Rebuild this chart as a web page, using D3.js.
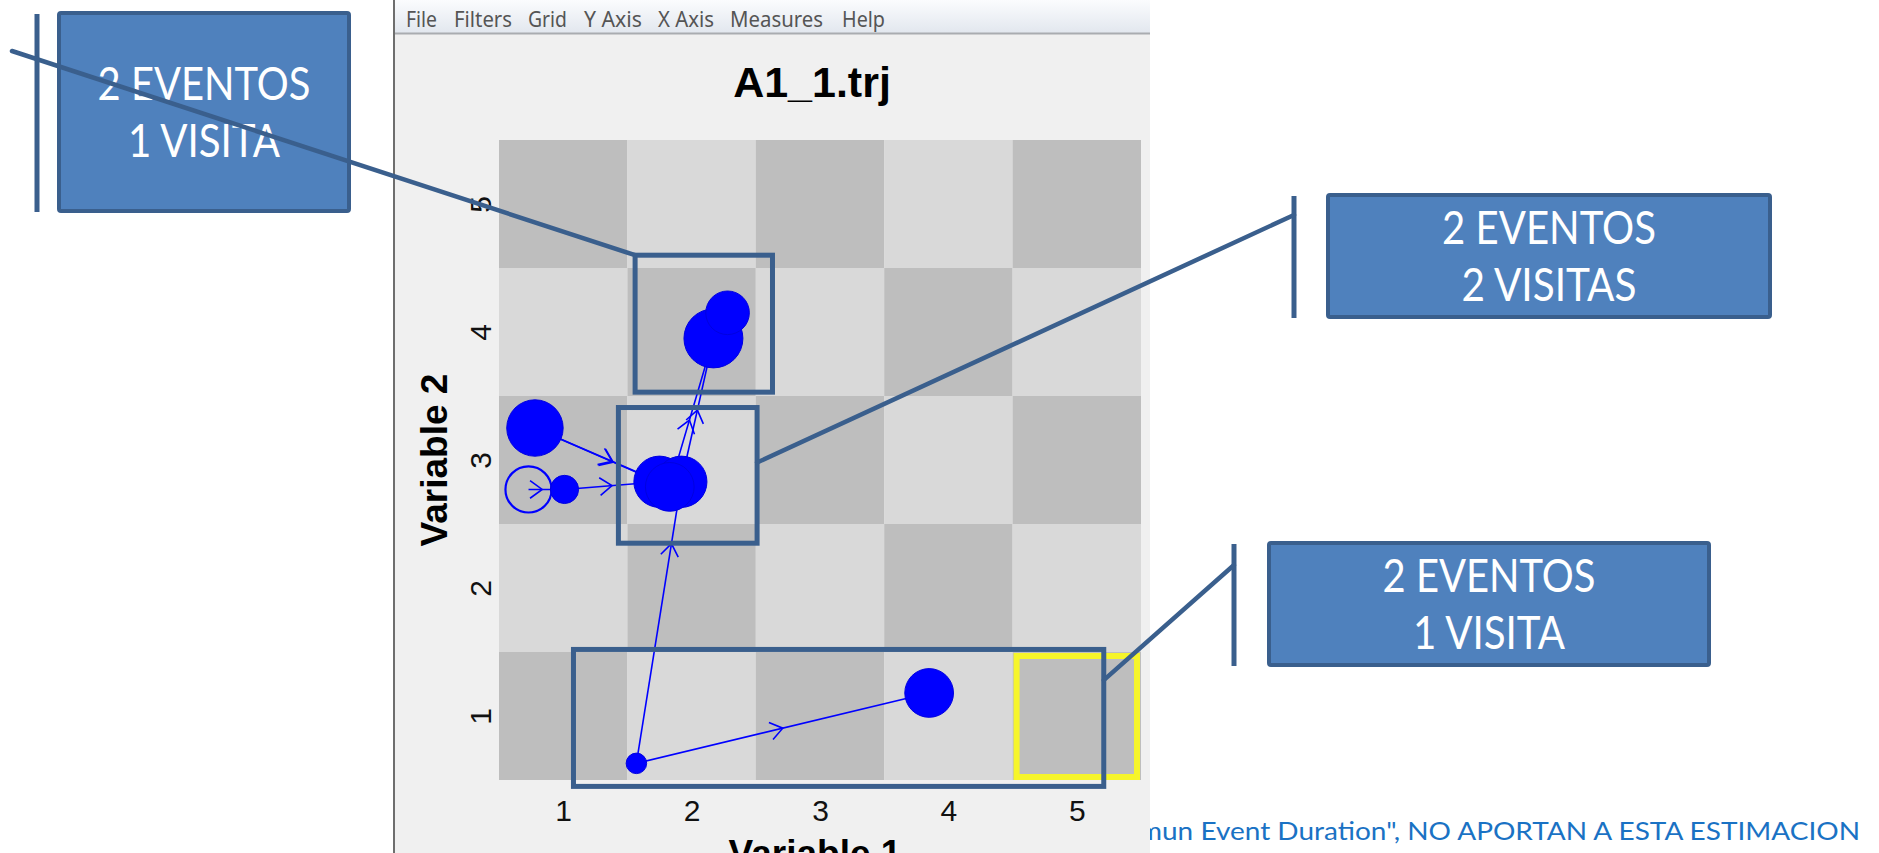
<!DOCTYPE html>
<html>
<head>
<meta charset="utf-8">
<script src="https://cdnjs.cloudflare.com/ajax/libs/d3/7.8.5/d3.min.js"></script>
<style>
  html, body { margin: 0; padding: 0; background: #fff; overflow: hidden; }
</style>
</head>
<body>
<div id="chart"></div>
<script>
'use strict';

// ---- data ----
const chartTitle = "A1_1.trj";
const menuItems = ["File", "Filters", "Grid", "Y Axis", "X Axis", "Measures", "Help"];
const xTicks = [1, 2, 3, 4, 5];
const yTicks = [1, 2, 3, 4, 5];
const xLabel = "Variable 1";
const yLabel = "Variable 2";

// events of the trajectory: grid position, radius in cell units (duration), filled or not
const eventIds = ["a", "b", "c", "d1", "d2", "d3", "e1", "e2", "f", "g"];
const eventX   = [0.78, 0.73, 1.01, 1.75, 1.92, 1.83, 2.17, 2.28, 1.57, 3.85];
const eventY   = [3.25, 2.77, 2.77, 2.83, 2.83, 2.79, 3.95, 4.15, 0.63, 1.18];
const eventR   = [0.22, 0.18, 0.11, 0.20, 0.20, 0.19, 0.23, 0.17, 0.08, 0.19];
const eventFilled = [true, false, true, true, true, true, true, true, true, true];

// moves between events, with where the arrow head sits along the move
const moveFrom = ["a",  "a",  "b",  "c",  "f",  "d2", "d3", "f"];
const moveTo   = ["d1", "d3", "c",  "d1", "d2", "e1", "e1", "g"];
const moveAt   = [0.62, 0.58, 0.38, 0.5,  0.78, 0.5,  0.45, 0.5];

// highlighted regions (grid units): x0, x1, y0, y1
const highlightNames = ["row4", "row3", "row1"];
const highlightX0 = [1.56, 1.43, 1.08];
const highlightX1 = [2.63, 2.51, 5.21];
const highlightY0 = [3.53, 2.35, 0.45];
const highlightY1 = [4.60, 3.41, 1.52];
const selectedCell = [5, 1];

// callout texts
const calloutLines = [
    ["2 EVENTOS", "1 VISITA"],
    ["2 EVENTOS", "2 VISITAS"],
    ["2 EVENTOS", "1 VISITA"]
];
const footnote = "mun Event Duration\", NO APORTAN A ESTA ESTIMACION";

// ---- layout ----
const W = 1879, H = 853;
const dark = "#bebebe", light = "#d9d9d9";
const annoColor = "#3a5f8d";

const svg = d3.select("#chart")
    .append("svg")
    .attr("width", W)
    .attr("height", H)
    .style("display", "block");

svg.append("rect").attr("width", W).attr("height", H).attr("fill", "#ffffff");

// footnote partly hidden behind the window
svg.append("text")
    .attr("x", 1139)
    .attr("y", 840)
    .attr("font-family", "Lato, 'Open Sans', sans-serif")
    .attr("font-size", 25)
    .attr("fill", "#1a72c4")
    .attr("textLength", 721)
    .attr("lengthAdjust", "spacingAndGlyphs")
    .text(footnote);

// application window
const win = svg.append("g");
win.append("rect")
    .attr("x", 395).attr("y", 0)
    .attr("width", 755).attr("height", H)
    .attr("fill", "#f0f0f0");
win.append("line")
    .attr("x1", 394).attr("x2", 394).attr("y1", 0).attr("y2", H)
    .attr("stroke", "#6e6e6e").attr("stroke-width", 2);

const defs = svg.append("defs");
const grad = defs.append("linearGradient").attr("id", "menuGrad")
    .attr("x1", 0).attr("x2", 0).attr("y1", 0).attr("y2", 1);
grad.append("stop").attr("offset", "0%").attr("stop-color", "#fbfcfe");
grad.append("stop").attr("offset", "100%").attr("stop-color", "#e2e7ee");

win.append("rect")
    .attr("x", 395).attr("y", 0)
    .attr("width", 755).attr("height", 33)
    .attr("fill", "url(#menuGrad)");
win.append("line")
    .attr("x1", 395).attr("x2", 1150).attr("y1", 33.5).attr("y2", 33.5)
    .attr("stroke", "#a9acb0").attr("stroke-width", 2);

const menuX = [406, 454, 528, 584, 658, 730, 842];
const menuW = [31, 58, 39, 58, 56, 93, 43];
win.selectAll(".menu")
    .data(menuItems)
    .enter()
    .append("text")
    .attr("class", "menu")
    .attr("x", (d, i) => menuX[i])
    .attr("y", 27)
    .attr("font-family", "'Noto Sans', 'Open Sans', sans-serif")
    .attr("font-size", 21)
    .attr("fill", "#555555")
    .attr("textLength", (d, i) => menuW[i])
    .attr("lengthAdjust", "spacingAndGlyphs")
    .text(d => d);

win.append("text")
    .attr("x", 812)
    .attr("y", 97)
    .attr("text-anchor", "middle")
    .attr("font-family", "'Liberation Sans', Arial, sans-serif")
    .attr("font-weight", "bold")
    .attr("font-size", 43)
    .attr("fill", "#000")
    .text(chartTitle);

// scales
const x = d3.scaleLinear().domain([0.5, 5.5]).range([499, 1141]);
const y = d3.scaleLinear().domain([0.5, 5.5]).range([780, 140]);
const r = d3.scaleLinear().domain([0, 1]).range([0, 128.2]);

const plot = svg.append("g");

// checkerboard cells
const cells = d3.cross(xTicks, yTicks);
plot.selectAll(".cell")
    .data(cells)
    .enter()
    .append("rect")
    .attr("class", "cell")
    .attr("x", d => x(d[0] - 0.5))
    .attr("y", d => y(d[1] + 0.5))
    .attr("width", d => x(d[0] + 0.5) - x(d[0] - 0.5))
    .attr("height", d => y(d[1] - 0.5) - y(d[1] + 0.5))
    .attr("fill", d => (d[0] + d[1]) % 2 === 0 ? dark : light);

// axes
const xAxis = plot.append("g")
    .attr("transform", "translate(0," + y(0.5) + ")")
    .call(d3.axisBottom(x).tickValues(xTicks).tickSize(0).tickPadding(20).tickFormat(d3.format("d")));
xAxis.select(".domain").remove();
xAxis.selectAll("text")
    .attr("font-family", "'Liberation Sans', Arial, sans-serif")
    .attr("font-size", 30)
    .attr("fill", "#111");

const yAxis = plot.append("g")
    .attr("transform", "translate(" + x(0.5) + ",0)")
    .call(d3.axisLeft(y).tickValues(yTicks).tickSize(0).tickFormat(d3.format("d")));
yAxis.select(".domain").remove();
yAxis.selectAll("text")
    .attr("x", null)
    .attr("dy", null)
    .attr("text-anchor", "middle")
    .attr("transform", "translate(-8,0) rotate(-90)")
    .attr("font-family", "'Liberation Sans', Arial, sans-serif")
    .attr("font-size", 30)
    .attr("fill", "#111");

plot.append("text")
    .attr("transform", "translate(447," + y(3) + ") rotate(-90)")
    .attr("text-anchor", "middle")
    .attr("font-family", "'Liberation Sans', Arial, sans-serif")
    .attr("font-weight", "bold")
    .attr("font-size", 37)
    .attr("fill", "#000")
    .text(yLabel);

plot.append("text")
    .attr("x", 815)
    .attr("y", 866)
    .attr("text-anchor", "middle")
    .attr("font-family", "'Liberation Sans', Arial, sans-serif")
    .attr("font-weight", "bold")
    .attr("font-size", 37)
    .attr("fill", "#000")
    .text(xLabel);

// trajectory
const events = eventIds.map((id, i) => ({
    id: id, x: eventX[i], y: eventY[i], r: eventR[i], filled: eventFilled[i]
}));
const byId = {};
events.forEach(e => { byId[e.id] = e; });
const moves = moveFrom.map((f, i) => ({ from: byId[f], to: byId[moveTo[i]], at: moveAt[i] }));

plot.selectAll(".move")
    .data(moves)
    .enter()
    .append("line")
    .attr("class", "move")
    .attr("x1", d => x(d.from.x))
    .attr("y1", d => y(d.from.y))
    .attr("x2", d => x(d.to.x))
    .attr("y2", d => y(d.to.y))
    .attr("stroke", "#0000ff")
    .attr("stroke-width", 1.6);

const arrowPath = (d) => {
    const x0 = x(d.from.x), y0 = y(d.from.y);
    const x1 = x(d.to.x), y1 = y(d.to.y);
    const tx = x0 + (x1 - x0) * d.at, ty = y0 + (y1 - y0) * d.at;
    const a = Math.atan2(y1 - y0, x1 - x0);
    const len = 15, spread = Math.PI * 0.8;
    const ax = tx + len * Math.cos(a + spread), ay = ty + len * Math.sin(a + spread);
    const bx = tx + len * Math.cos(a - spread), by = ty + len * Math.sin(a - spread);
    return "M" + ax + "," + ay + "L" + tx + "," + ty + "L" + bx + "," + by;
};

plot.selectAll(".arrow")
    .data(moves)
    .enter()
    .append("path")
    .attr("class", "arrow")
    .attr("d", arrowPath)
    .attr("fill", "none")
    .attr("stroke", "#0000ff")
    .attr("stroke-width", 1.6);

plot.selectAll(".event")
    .data(events)
    .enter()
    .append("circle")
    .attr("class", "event")
    .attr("cx", d => x(d.x))
    .attr("cy", d => y(d.y))
    .attr("r", d => r(d.r))
    .attr("fill", d => d.filled ? "#0000ff" : "none")
    .attr("stroke", d => d.filled ? "#0000e0" : "#0000ff")
    .attr("stroke-width", d => d.filled ? 1 : 2.2);

// selected cell (yellow)
plot.append("rect")
    .attr("x", x(selectedCell[0] - 0.5) + 4)
    .attr("y", y(selectedCell[1] + 0.5) + 4)
    .attr("width", x(selectedCell[0] + 0.5) - x(selectedCell[0] - 0.5) - 8)
    .attr("height", y(selectedCell[1] - 0.5) - y(selectedCell[1] + 0.5) - 7)
    .attr("fill", "none")
    .attr("stroke", "#f6f52a")
    .attr("stroke-width", 6);

// highlight boxes drawn over the chart
const highlights = highlightNames.map((n, i) => ({
    name: n, x0: highlightX0[i], x1: highlightX1[i], y0: highlightY0[i], y1: highlightY1[i]
}));
const anno = svg.append("g");
anno.selectAll(".hl")
    .data(highlights)
    .enter()
    .append("rect")
    .attr("class", "hl")
    .attr("x", d => x(d.x0))
    .attr("y", d => y(d.y1))
    .attr("width", d => x(d.x1) - x(d.x0))
    .attr("height", d => y(d.y0) - y(d.y1))
    .attr("fill", "none")
    .attr("stroke", annoColor)
    .attr("stroke-width", 5);

// callouts: box, accent bar and leader line to a highlight
const boxes = [
    { x0: 59, y0: 13, x1: 349, y1: 211, bar: 37, from: [12, 51],
      to: [x(highlightX0[0]), y(highlightY1[0])], w: [213, 152] },
    { x0: 1328, y0: 195, x1: 1770, y1: 317, bar: 1294, from: [1294, 215],
      to: [x(highlightX1[1]), y(2.98)], w: [214, 175] },
    { x0: 1269, y0: 543, x1: 1709, y1: 665, bar: 1234, from: [1234, 565],
      to: [x(highlightX1[2]), y(1.28)], w: [213, 152] }
];

boxes.forEach((b, i) => {
    const g = anno.append("g");
    g.append("line")
        .attr("x1", b.bar).attr("x2", b.bar)
        .attr("y1", b.y0 + 1).attr("y2", b.y1 + 1)
        .attr("stroke", annoColor).attr("stroke-width", 5);
    g.append("rect")
        .attr("x", b.x0).attr("y", b.y0)
        .attr("width", b.x1 - b.x0).attr("height", b.y1 - b.y0)
        .attr("rx", 2)
        .attr("fill", "#4f81bd")
        .attr("stroke", annoColor)
        .attr("stroke-width", 4);
    const cx = (b.x0 + b.x1) / 2, cy = (b.y0 + b.y1) / 2;
    g.selectAll("text")
        .data(calloutLines[i])
        .enter()
        .append("text")
        .attr("x", cx)
        .attr("y", (d, j) => cy - 12 + j * 57)
        .attr("text-anchor", "middle")
        .attr("font-family", "Lato, 'Open Sans', sans-serif")
        .attr("font-weight", 400)
        .attr("font-size", 46)
        .attr("fill", "#ffffff")
        .attr("textLength", (d, j) => b.w[j])
        .attr("lengthAdjust", "spacingAndGlyphs")
        .text(d => d);
    g.append("line")
        .attr("x1", b.from[0]).attr("y1", b.from[1])
        .attr("x2", b.to[0]).attr("y2", b.to[1])
        .attr("stroke", annoColor).attr("stroke-width", 4.5)
        .attr("stroke-linecap", "round");
});
</script>
</body>
</html>
